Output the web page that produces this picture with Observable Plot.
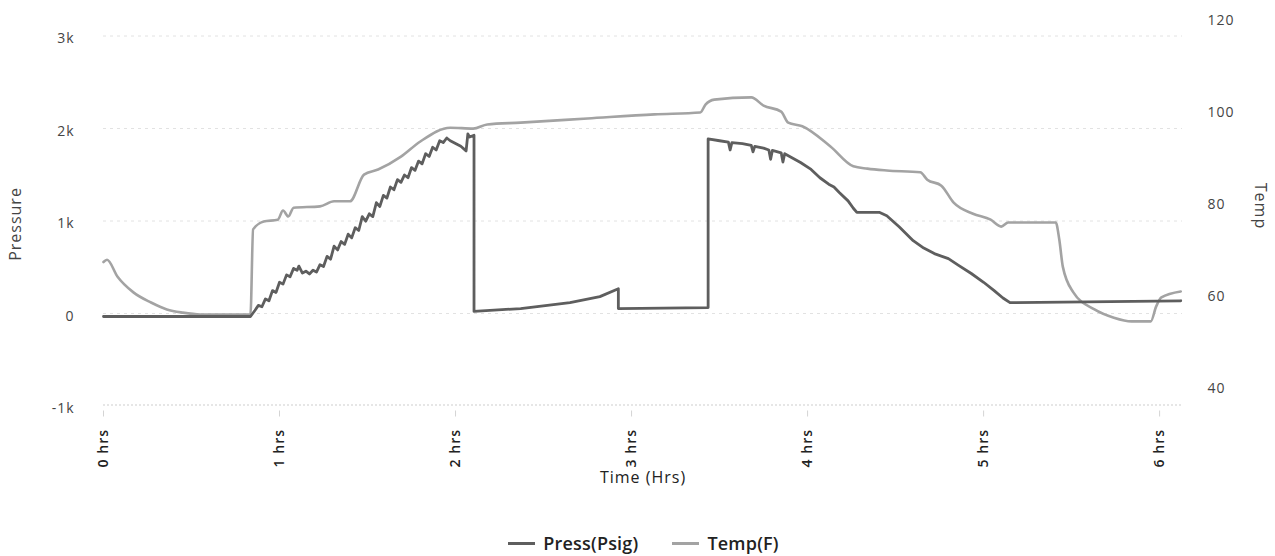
<!DOCTYPE html>
<html>
<head>
<meta charset="utf-8">
<script src="https://cdn.jsdelivr.net/npm/d3@7"></script>
<script src="https://cdn.jsdelivr.net/npm/@observablehq/plot@0.6"></script>
<style>
  body { margin: 0; background: #fff; font-family: "Open Sans", sans-serif; }
  #legend { display: flex; justify-content: center; align-items: center; gap: 34px; margin-top: 31px; margin-left: 12px;
            font-size: 18px; color: #222; font-weight: 600; letter-spacing: 0.2px; }
  .item { display: flex; align-items: center; gap: 8px; }
  .sw { width: 27px; height: 3px; display: inline-block; }
</style>
</head>
<body>
<div id="chart"></div>
<div id="legend"></div>
<script>
// ---- data (hours, values) ----
const pressHours = [0, 0.835, 0.86, 0.88, 0.90, 0.92, 0.94, 0.96, 0.98, 1.00, 1.02, 1.04, 1.06, 1.08, 1.10, 1.11, 1.13, 1.15, 1.17, 1.19, 1.21, 1.23, 1.25, 1.27, 1.29, 1.31, 1.33, 1.35, 1.37, 1.39, 1.41, 1.43, 1.45, 1.47, 1.49, 1.51, 1.53, 1.55, 1.57, 1.59, 1.61, 1.63, 1.65, 1.67, 1.69, 1.71, 1.73, 1.75, 1.77, 1.79, 1.81, 1.83, 1.85, 1.87, 1.89, 1.91, 1.93, 1.95, 1.97, 2.00, 2.03, 2.06, 2.07, 2.08, 2.105, 2.105, 2.37, 2.65, 2.82, 2.925, 2.925, 3.435, 3.435, 3.50, 3.55, 3.56, 3.57, 3.63, 3.68, 3.69, 3.70, 3.75, 3.78, 3.79, 3.80, 3.85, 3.86, 3.87, 3.96, 4.02, 4.07, 4.12, 4.15, 4.18, 4.23, 4.26, 4.28, 4.41, 4.45, 4.52, 4.60, 4.66, 4.72, 4.80, 4.86, 4.93, 5.00, 5.06, 5.11, 5.15, 6.12];
const pressValues = [0, 0, 65, 120, 105, 190, 170, 280, 260, 370, 350, 450, 430, 520, 500, 545, 470, 490, 460, 500, 480, 560, 540, 650, 620, 760, 720, 810, 780, 890, 850, 960, 930, 1080, 1030, 1110, 1080, 1230, 1190, 1310, 1280, 1400, 1370, 1480, 1450, 1530, 1500, 1610, 1580, 1680, 1650, 1760, 1730, 1830, 1800, 1900, 1880, 1930, 1900, 1870, 1840, 1790, 1975, 1940, 1960, 55, 86, 150, 215, 300, 86, 97, 1920, 1900, 1885, 1800, 1880, 1870, 1850, 1780, 1840, 1820, 1800, 1700, 1795, 1770, 1670, 1760, 1665, 1590, 1500, 1430, 1400, 1340, 1250, 1170, 1125, 1125, 1090, 970, 820, 740, 680, 625, 550, 465, 370, 280, 200, 150, 170];

const tempHours = [0, 0.02, 0.08, 0.17, 0.27, 0.36, 0.45, 0.55, 0.835, 0.85, 0.91, 0.99, 1.02, 1.05, 1.08, 1.23, 1.31, 1.40, 1.48, 1.56, 1.69, 1.80, 1.97, 2.10, 2.18, 2.37, 2.75, 3.13, 3.39, 3.42, 3.47, 3.68, 3.75, 3.85, 3.89, 3.97, 4.13, 4.26, 4.34, 4.45, 4.64, 4.68, 4.76, 4.83, 4.94, 5.04, 5.10, 5.14, 5.41, 5.43, 5.45, 5.51, 5.63, 5.74, 5.84, 5.95, 5.98, 6.01, 6.12];
const tempValues = [67.5, 68.0, 64.3, 60.9, 58.7, 57.2, 56.5, 56.1, 56.1, 74.6, 76.3, 76.7, 78.7, 77.4, 79.3, 79.6, 80.7, 80.7, 86.5, 87.6, 90.4, 93.7, 96.7, 96.5, 97.4, 97.8, 98.7, 99.6, 100.0, 101.7, 102.8, 103.3, 101.5, 100.2, 97.8, 97.0, 92.6, 88.3, 87.8, 87.4, 87.0, 85.4, 84.1, 80.4, 78.0, 76.7, 75.2, 76.1, 76.1, 72.4, 66.5, 60.9, 57.2, 55.4, 54.6, 54.6, 57.8, 59.8, 61.1];

const hourTicks = [0, 1, 2, 3, 4, 5, 6];
const pressTicks = [-1000, 0, 1000, 2000, 3000];
const tempTicks = [40, 60, 80, 100, 120];

const seriesNames = ["Press(Psig)", "Temp(F)"];
const seriesColors = ["#5e5e5e", "#a3a3a3"];

// temp -> pressure-scale mapping (secondary axis)
const toP = t => 216 + 49.73 * (t - 60);

const press = pressHours.map((h, i) => ({h, v: pressValues[i]}));
const temp = tempHours.map((h, i) => ({h, v: tempValues[i]}));

const fmtK = d => d === 0 ? "0" : (d < 0 ? "-" : "") + Math.abs(d / 1000) + "k";

const chart = Plot.plot({
  width: 1275,
  height: 500,
  marginLeft: 103,
  marginRight: 93,
  marginTop: 38.5,
  marginBottom: 91.5,
  style: {fontFamily: "Open Sans, sans-serif", fontSize: "14px", color: "#3a3a3a", background: "#fff", letterSpacing: "1px"},
  x: {domain: [0, 6.13]},
  y: {domain: [-1000, 3000]},
  marks: [
    Plot.gridY(pressTicks.filter(d => d !== -1000), {stroke: "#e2e2e2", strokeOpacity: 1, strokeDasharray: "3,4", dy: -3}),
    Plot.gridY([-1000], {stroke: "#cdcdcd", strokeOpacity: 1, strokeDasharray: "2,2", dy: -4}),
    Plot.axisY(pressTicks, {tickSize: 0, tickPadding: 29, tickFormat: fmtK, label: null, fill: "#444"}),
    Plot.text(tempTicks, {y: d => toP(d), text: d => String(d), frameAnchor: "right", dx: 25, textAnchor: "start", fill: "#444"}),
    Plot.axisX(hourTicks, {tickSize: 6, stroke: "#d4d4d4", tickPadding: 12, tickRotate: -90, tickFormat: d => `${d} hrs`, label: null, fill: "#222", fontWeight: 600, dy: 2}),
    Plot.text(["Time (Hrs)"], {frameAnchor: "bottom", dy: 74, fontSize: 16, fill: "#222", letterSpacing: "0.5px"}),
    Plot.text(["Pressure"], {frameAnchor: "left", textAnchor: "middle", dx: -88, dy: 0, rotate: -90, fontSize: 16, fill: "#444", letterSpacing: "2.5px"}),
    Plot.text(["Temp"], {frameAnchor: "right", textAnchor: "middle", dx: 78, dy: -18, rotate: 90, fontSize: 16, fill: "#444", letterSpacing: "3.5px"}),
    Plot.line(temp, {x: "h", y: d => toP(d.v), stroke: seriesColors[1], strokeWidth: 2.6, curve: "monotone-x"}),
    Plot.line(press, {x: "h", y: "v", stroke: seriesColors[0], strokeWidth: 2.8, curve: "linear"})
  ]
});
document.getElementById("chart").appendChild(chart);

const legend = document.getElementById("legend");
seriesNames.forEach((name, i) => {
  const item = document.createElement("div");
  item.className = "item";
  const sw = document.createElement("span");
  sw.className = "sw";
  sw.style.background = seriesColors[i];
  const lbl = document.createElement("span");
  lbl.textContent = name;
  item.appendChild(sw);
  item.appendChild(lbl);
  legend.appendChild(item);
});
</script>
</body>
</html>
